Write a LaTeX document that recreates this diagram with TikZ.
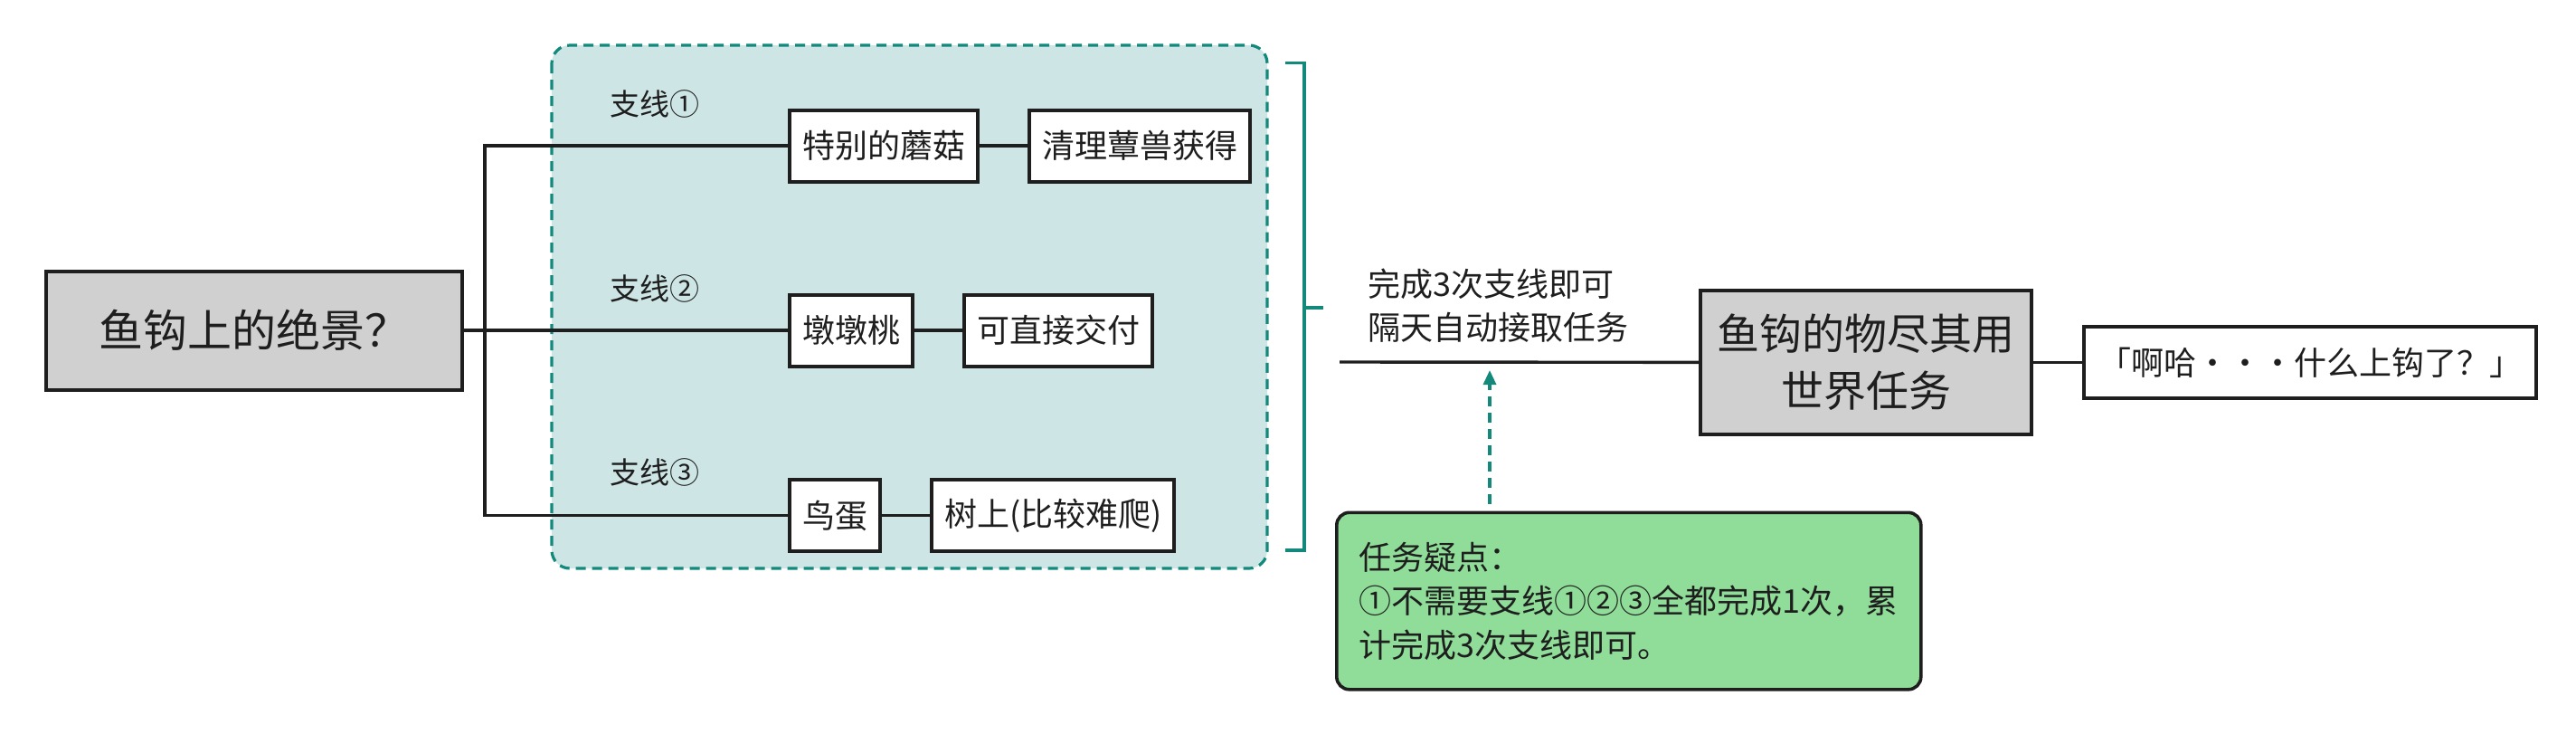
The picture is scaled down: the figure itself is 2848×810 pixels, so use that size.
\documentclass[tikz,border=0pt]{standalone}
\usepackage{fontspec}
\setmainfont{Noto Sans CJK SC}
\usepackage{tikz}
\usetikzlibrary{positioning,arrows.meta}
\definecolor{teal1}{HTML}{12897A}
\definecolor{groupbg}{HTML}{CDE6E5}
\definecolor{boxgray}{HTML}{D0D0D0}
\definecolor{notegreen}{HTML}{8FDD98}
\definecolor{ink}{HTML}{1E1E1E}

\begin{document}
\begin{tikzpicture}[x=0.5pt,y=-0.5pt,color=ink,line width=1.7pt,
  box/.style={draw,line width=2pt,fill=white,inner xsep=7pt,minimum height=39.5pt,font=\fontsize{18pt}{22pt}\selectfont},
  main/.style={draw,line width=2pt,fill=boxgray},
  lbl/.style={anchor=west,inner sep=0pt,font=\fontsize{16.5pt}{20pt}\selectfont},
  tealdash/.style={draw=teal1,line width=1.6pt,dash pattern=on 5.5pt off 3.5pt}]
\useasboundingbox (0,0) rectangle (2848,810);
\draw[tealdash,fill=groupbg,rounded corners=10pt] (610,50) rectangle (1401,628);
\node[main,minimum width=230pt,minimum height=65.5pt,font=\fontsize{24.5pt}{28pt}\selectfont] (root) at (281,365) {鱼钩上的绝景？};
\node[box,anchor=west] (b1) at (871,161) {特别的蘑菇};
\node[box,right=26.5pt of b1] (c1) {清理蕈兽获得};
\node[box,anchor=west] (b2) at (871,365) {墩墩桃};
\node[box,right=26.5pt of b2] (c2) {可直接交付};
\node[box,anchor=west] (b3) at (871,569.5) {鸟蛋};
\node[box,right=26.5pt of b3] (c3) {树上(比较难爬)};
\node[lbl] (l1) at (673,115) {支线①};
\node[lbl] (l2) at (673,319) {支线②};
\node[lbl] (l3) at (673,522) {支线③};
\coordinate (t) at (536,365);
\path (root) edge (b2)
      (b1) edge (c1)
      (b2) edge (c2)
      (b3) edge (c3);
\draw (b1.west) -| (t) |- (b3.west);
\draw[teal1,line width=1.6pt] (1421,69.5) -- (1442,69.5) -- (1442,608) -- (1421,608)
      (1442,340) -- (1463,340);
\coordinate (m0) at (1481,400);
\node[main,minimum width=183pt,minimum height=79.5pt,align=center,font=\fontsize{23.5pt}{31.5pt}\selectfont] (big) at (2063,400.5) {鱼钩的物尽其用\\世界任务};
\node[box,inner xsep=8pt,right=27pt of big] (quote) {「啊哈・・・什么上钩了？」};
\node[anchor=west,align=left,inner sep=0pt,font=\fontsize{18pt}{24pt}\selectfont] (cond) at (1511,338) {完成3次支线即可\\隔天自动接取任务};
\path (m0) edge (big)
      (big) edge (quote);
\node[draw,line width=1.8pt,fill=notegreen,rounded corners=7pt,anchor=north west,align=left,inner xsep=12.5pt,minimum height=97.75pt,font=\fontsize{18pt}{24.25pt}\selectfont] (note) at (1476,564.5) {任务疑点：\\①不需要支线①②③全都完成1次，累\\计完成3次支线即可。};
\coordinate (tip) at (1647,409);
\draw[tealdash,-{Triangle[length=8pt,width=7pt]},shorten <=4pt] (note.north -| tip) -- (tip);
\end{tikzpicture}
\end{document}
